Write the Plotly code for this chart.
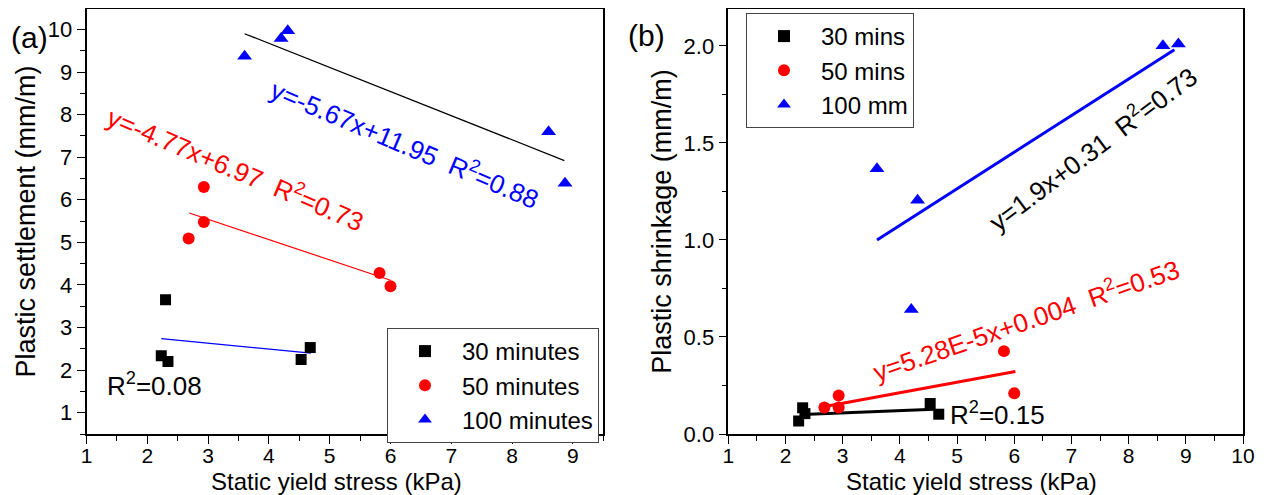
import plotly.graph_objects as go

# ---------------- data ----------------
# static yield stress (kPa)
x_30 = [2.23, 2.30, 2.34, 4.53, 4.68]
x_50 = [2.68, 2.93, 2.93, 5.82, 6.00]
x_100 = [3.60, 4.20, 4.31, 8.60, 8.87]

# (a) plastic settlement (mm/m)
settle_30 = [2.34, 3.65, 2.20, 2.25, 2.53]
settle_50 = [5.09, 5.48, 6.30, 4.28, 3.97]
settle_100 = [9.37, 9.79, 9.97, 7.60, 6.39]

# (b) plastic shrinkage (mm/m)
shrink_30 = [0.067, 0.135, 0.105, 0.157, 0.102]
shrink_50 = [0.137, 0.137, 0.198, 0.427, 0.210]
shrink_100 = [1.367, 0.641, 1.204, 2.000, 2.010]

# fitted lines (end points)
fitA_30_x, fitA_30_y = [2.23, 4.69], [2.74, 2.40]
fitA_50_x, fitA_50_y = [2.69, 6.00], [5.69, 4.11]
fitA_100_x, fitA_100_y = [3.60, 8.86], [9.90, 6.92]
fitB_30_x, fitB_30_y = [2.30, 4.60], [0.100, 0.127]
fitB_50_x, fitB_50_y = [2.69, 6.02], [0.142, 0.322]
fitB_100_x, fitB_100_y = [3.60, 8.80], [1.00, 1.98]

legend_a = ["30 minutes", "50 minutes", "100 minutes"]
legend_b = ["30 mins", "50 mins", "100 mm"]

FONT = "Liberation Sans, Arial, sans-serif"
BLACK, RED, BLUE = "#000000", "#FF0000", "#0000FF"

fig = go.Figure()

def line(x, y, color, width, xa, ya):
    fig.add_trace(go.Scatter(x=x, y=y, mode="lines", line=dict(color=color, width=width),
                             showlegend=False, xaxis=xa, yaxis=ya, hoverinfo="skip"))

# panel (a) fits
line(fitA_30_x, fitA_30_y, BLUE, 1.2, "x", "y")
line(fitA_50_x, fitA_50_y, RED, 1.2, "x", "y")
line(fitA_100_x, fitA_100_y, BLACK, 1.2, "x", "y")
# panel (b) fits
line(fitB_30_x, fitB_30_y, BLACK, 3, "x2", "y2")
line(fitB_50_x, fitB_50_y, RED, 3, "x2", "y2")
line(fitB_100_x, fitB_100_y, BLUE, 3, "x2", "y2")

series = [
    (x_30, settle_30, shrink_30, "square", BLACK, 11),
    (x_50, settle_50, shrink_50, "circle", RED, 12),
    (x_100, settle_100, shrink_100, "triangle-up", BLUE, 13),
]
for i, (xs, ya_vals, yb_vals, sym, col, sz) in enumerate(series):
    fig.add_trace(go.Scatter(x=xs, y=ya_vals, mode="markers", name=legend_a[i],
                             marker=dict(symbol=sym, color=col, size=sz),
                             xaxis="x", yaxis="y", legend="legend"))
    fig.add_trace(go.Scatter(x=xs, y=yb_vals, mode="markers", name=legend_b[i],
                             marker=dict(symbol=sym, color=col, size=sz),
                             xaxis="x2", yaxis="y2", legend="legend2"))

axis_common = dict(
    showline=True, linecolor="black", linewidth=1.5, mirror=True,
    ticks="outside", ticklen=8, tickwidth=1.3, tickcolor="black",
    showgrid=False, zeroline=False, automargin=False,
    tickfont=dict(family=FONT, size=22, color="black"),
    minor=dict(ticks="outside", ticklen=5, tickwidth=1.1, tickcolor="black", showgrid=False),
)
xtickfont = dict(family=FONT, size=21, color="black")

# page is drawn with an 8 px body margin: convert page pixels to figure paper coords
OFF = 8
W, H = 1264 - OFF, 495 - OFF
def px_x(p): return min(1.0, max(0.0, (p - OFF) / W))
def px_y(p): return min(1.0, max(0.0, 1 - (p - OFF) / H))

xa_common = {k: v for k, v in axis_common.items() if k != "tickfont"}

fig.update_layout(
    width=W, height=H,
    margin=dict(l=0, r=0, t=0, b=0, autoexpand=False),
    paper_bgcolor="white", plot_bgcolor="white",
    font=dict(family=FONT, color="black"),
    xaxis=dict(domain=[px_x(86.5), px_x(603.3)], range=[1, 9.5], dtick=1, tick0=1,
               minor_dtick=0.5, anchor="y", ticklabelstandoff=-6, tickfont=xtickfont,
               **xa_common),
    yaxis=dict(domain=[px_y(434), px_y(9)], range=[0.5, 10.48], dtick=1, tick0=1,
               minor_dtick=0.5, anchor="x",
               title=dict(text="Plastic settlement (mm/m)", font=dict(size=27), standoff=4),
               **axis_common),
    xaxis2=dict(domain=[px_x(728.3), px_x(1243)], range=[1, 10], dtick=1, tick0=1,
                minor_dtick=0.5, anchor="y2", ticklabelstandoff=-6, tickfont=xtickfont,
                **xa_common),
    yaxis2=dict(domain=[px_y(434), px_y(9)], range=[0, 2.19], dtick=0.5, tick0=0,
                minor_dtick=0.25, anchor="x2", tickformat=".1f",
                title=dict(text="Plastic shrinkage (mm/m)", font=dict(size=27), standoff=4),
                **axis_common),
    legend=dict(x=px_x(599), xanchor="right", y=px_y(328), yanchor="top",
                bordercolor="#444", borderwidth=1, bgcolor="white",
                font=dict(family=FONT, size=24, color="black"), tracegroupgap=0,
                itemsizing="constant", itemwidth=64),
    legend2=dict(x=px_x(746), xanchor="left", y=px_y(13), yanchor="top",
                 bordercolor="#444", borderwidth=1, bgcolor="white",
                 font=dict(family=FONT, size=24, color="black"), tracegroupgap=0,
                 itemsizing="constant", itemwidth=64),
)

def ann(text, x, y, color, size=26, angle=0, xanchor="center"):
    fig.add_annotation(text=text, x=px_x(x), y=px_y(y), xref="paper", yref="paper",
                       showarrow=False, textangle=angle,
                       font=dict(family=FONT, size=size, color=color),
                       xanchor=xanchor, yanchor="middle")

# x-axis titles
ann("Static yield stress (kPa)", 336, 481, BLACK, size=24)
ann("Static yield stress (kPa)", 971, 481, BLACK, size=24)

ann("(a)", 9, 37, BLACK, size=30, xanchor="left")
ann("(b)", 646, 36, BLACK, size=30)
ann("y=-5.67x+11.95  R<sup>2</sup>=0.88", 405, 144, BLUE, angle=23)
ann("y=-4.77x+6.97  R<sup>2</sup>=0.73", 236, 169, RED, angle=23)
ann("R<sup>2</sup>=0.08", 154, 384, BLACK)
ann("y=1.9x+0.31  R<sup>2</sup>=0.73", 1092, 148, BLACK, angle=-37)
ann("y=5.28E-5x+0.004  R<sup>2</sup>=0.53", 1026, 319, RED, angle=-19)
ann("R<sup>2</sup>=0.15", 997, 413, BLACK)

fig.write_html("out.html")
